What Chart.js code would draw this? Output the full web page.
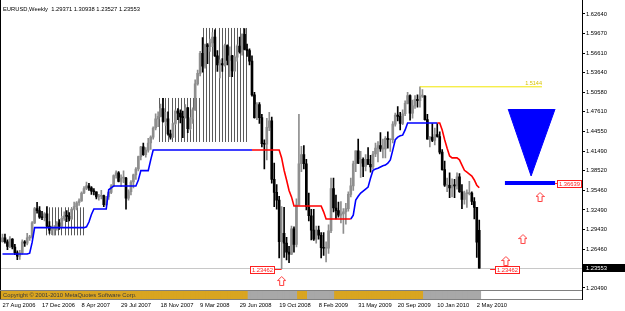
<!DOCTYPE html>
<html>
<head>
<meta charset="utf-8">
<script src="https://cdn.jsdelivr.net/npm/chart.js@4.4.0/dist/chart.umd.min.js"></script>
<style>
html, body { margin: 0; padding: 0; background: #fff; }
#wrap { position: relative; width: 625px; height: 311px; overflow: hidden; }
#main { position: absolute; left: 0; top: 0; }
#strip { position: absolute; left: 0; top: 291px; }
</style>
</head>
<body>
<div id="wrap">
<canvas id="main" width="625" height="311"></canvas>
<canvas id="strip" width="582" height="8"></canvas>
</div>
<script>
// EURUSD weekly, week 0 = 27 Aug 2006, last week = 9 May 2010
const opens = [
  1.2760,1.2820,1.2760,1.2690,1.2800,1.2680,1.2590,1.2540,1.2590,1.2760,
  1.2740,1.2820,1.2830,1.3050,1.3270,1.3240,1.3140,1.3130,1.3190,1.3000,
  1.2940,1.2950,1.2970,1.3050,1.3000,1.3120,1.3160,1.3150,1.3110,1.3260,
  1.3300,1.3360,1.3390,1.3510,1.3580,1.3620,1.3590,1.3540,1.3530,1.3450,
  1.3460,1.3470,1.3330,1.3450,1.3520,1.3620,1.3780,1.3820,1.3690,1.3740,
  1.3740,1.3430,1.3530,1.3680,1.3790,1.3880,1.4070,1.4220,1.4100,1.4170,
  1.4280,1.4370,1.4510,1.4650,1.4690,1.4810,1.4610,1.4650,1.4420,1.4370,
  1.4580,1.4770,1.4740,1.4680,1.4670,1.4820,1.4500,1.4650,1.4790,1.5190,
  1.5350,1.5660,1.5460,1.5790,1.5760,1.5820,1.5910,1.5620,1.5480,1.5500,
  1.5480,1.5780,1.5550,1.5620,1.5390,1.5600,1.5770,1.5680,1.5950,1.5720,
  1.5700,1.5540,1.5020,1.4670,1.4870,1.4670,1.4270,1.4260,1.4520,1.4620,
  1.3720,1.3520,1.3400,1.2760,1.2890,1.2740,1.2600,1.2570,1.2960,1.2720,
  1.3330,1.3960,1.4100,1.3960,1.3300,1.3160,1.2940,1.2800,1.2940,1.2860,
  1.2670,1.2660,1.2660,1.2930,1.3580,1.3280,1.3240,1.3170,1.3190,1.3220,
  1.3270,1.3490,1.3620,1.3960,1.4160,1.3970,1.4030,1.3920,1.4030,1.3950,
  1.3910,1.4110,1.4200,1.4240,1.4190,1.4190,1.4350,1.4330,1.4330,1.4570,
  1.4710,1.4690,1.4580,1.4730,1.4890,1.5010,1.4740,1.4850,1.4950,1.4930,
  1.5000,1.5000,1.4640,1.4340,1.4370,1.4320,1.4410,1.4380,1.4140,1.3870,
  1.3630,1.3630,1.3590,1.3630,1.3620,1.3760,1.3530,1.3410,1.3500,1.3500,
  1.3510,1.3380,1.3290,1.29371
];
const highs = [
  1.2880,1.2880,1.2790,1.2840,1.2810,1.2720,1.2620,1.2630,1.2790,1.2780,
  1.2890,1.2860,1.3070,1.3290,1.3367,1.3300,1.3230,1.3210,1.3300,1.3070,
  1.3000,1.3010,1.3070,1.3100,1.3150,1.3220,1.3240,1.3210,1.3280,1.3370,
  1.3380,1.3420,1.3530,1.3610,1.3680,1.3660,1.3610,1.3580,1.3530,1.3490,
  1.3550,1.3480,1.3460,1.3540,1.3640,1.3790,1.3850,1.3840,1.3790,1.3850,
  1.3750,1.3560,1.3700,1.3800,1.3900,1.4080,1.4230,1.4280,1.4210,1.4350,
  1.4390,1.4530,1.4730,1.4760,1.4880,1.4966,1.4750,1.4760,1.4480,1.4590,
  1.4790,1.4810,1.4790,1.4770,1.4870,1.4830,1.4670,1.4820,1.5250,1.5400,
  1.5690,1.5900,1.5800,1.5810,1.5880,1.5980,1.6020,1.5700,1.5560,1.5580,
  1.5800,1.5790,1.5760,1.5630,1.5620,1.5790,1.5910,1.5960,1.6038,1.5800,
  1.5730,1.5620,1.5060,1.4900,1.4900,1.4720,1.4330,1.4660,1.4750,1.4680,
  1.3970,1.3640,1.3460,1.3300,1.3290,1.2830,1.2690,1.3000,1.2990,1.3420,
  1.4719,1.4230,1.4240,1.4030,1.3510,1.3260,1.3260,1.3000,1.3000,1.2900,
  1.2900,1.2760,1.3020,1.3740,1.3740,1.3480,1.3370,1.3380,1.3270,1.3350,
  1.3530,1.3740,1.4000,1.4160,1.4340,1.4150,1.4050,1.4100,1.4210,1.4090,
  1.4150,1.4280,1.4300,1.4440,1.4340,1.4380,1.4450,1.4340,1.4610,1.4740,
  1.4840,1.4750,1.4790,1.4930,1.5060,1.5020,1.4940,1.5010,1.5020,1.5144,
  1.5100,1.5010,1.4720,1.4380,1.4580,1.4510,1.4580,1.4450,1.4180,1.4000,
  1.3740,1.3820,1.3730,1.3720,1.3820,1.3810,1.3640,1.3540,1.3560,1.3690,
  1.3530,1.3440,1.3290,1.30938
];
const lows = [
  1.2755,1.2740,1.2640,1.2670,1.2650,1.2560,1.2485,1.2490,1.2570,1.2690,
  1.2710,1.2780,1.2810,1.3040,1.3200,1.3120,1.3100,1.3080,1.2990,1.2890,
  1.2870,1.2860,1.2940,1.2950,1.2990,1.3090,1.3070,1.3080,1.3100,1.3250,
  1.3250,1.3320,1.3380,1.3500,1.3560,1.3550,1.3490,1.3480,1.3420,1.3400,
  1.3420,1.3300,1.3310,1.3410,1.3500,1.3610,1.3740,1.3680,1.3610,1.3670,
  1.3260,1.3400,1.3480,1.3590,1.3720,1.3850,1.4020,1.4090,1.4060,1.4140,
  1.4180,1.4340,1.4480,1.4530,1.4680,1.4600,1.4550,1.4400,1.4340,1.4360,
  1.4560,1.4640,1.4590,1.4360,1.4660,1.4440,1.4480,1.4580,1.4780,1.5170,
  1.5310,1.5370,1.5430,1.5500,1.5690,1.5760,1.5610,1.5380,1.5280,1.5380,
  1.5460,1.5480,1.5300,1.5300,1.5380,1.5540,1.5660,1.5630,1.5710,1.5610,
  1.5480,1.5000,1.4660,1.4640,1.4580,1.4220,1.3880,1.4020,1.4470,1.3660,
  1.3300,1.3260,1.2510,1.23462,1.2520,1.2480,1.2440,1.2560,1.2600,1.2680,
  1.3320,1.3840,1.3880,1.3250,1.3080,1.2790,1.2780,1.2740,1.2800,1.2510,
  1.2550,1.2450,1.2580,1.2900,1.3220,1.3110,1.3140,1.3050,1.2890,1.3030,
  1.3230,1.3450,1.3550,1.3840,1.3960,1.3750,1.3760,1.3850,1.3950,1.3830,
  1.3880,1.4070,1.3990,1.4150,1.4050,1.4050,1.4200,1.4150,1.4280,1.4540,
  1.4620,1.4480,1.4560,1.4700,1.4880,1.4630,1.4660,1.4810,1.4830,1.4830,
  1.4980,1.4630,1.4340,1.4220,1.4300,1.4250,1.4370,1.4110,1.3860,1.3610,
  1.3530,1.3440,1.3450,1.3440,1.3570,1.3520,1.3270,1.3340,1.3290,1.3480,
  1.3330,1.3110,1.2520,1.23527
];
const closes = [
  1.2820,1.2760,1.2690,1.2800,1.2680,1.2590,1.2540,1.2590,1.2760,1.2740,
  1.2820,1.2830,1.3050,1.3270,1.3240,1.3140,1.3130,1.3190,1.3000,1.2940,
  1.2950,1.2970,1.3050,1.3000,1.3120,1.3160,1.3150,1.3110,1.3260,1.3300,
  1.3360,1.3390,1.3510,1.3580,1.3620,1.3590,1.3540,1.3530,1.3450,1.3460,
  1.3470,1.3330,1.3450,1.3520,1.3620,1.3780,1.3820,1.3690,1.3740,1.3740,
  1.3430,1.3530,1.3680,1.3790,1.3880,1.4070,1.4220,1.4100,1.4170,1.4280,
  1.4370,1.4510,1.4650,1.4690,1.4810,1.4610,1.4650,1.4420,1.4370,1.4580,
  1.4770,1.4740,1.4680,1.4670,1.4820,1.4500,1.4650,1.4790,1.5190,1.5350,
  1.5660,1.5460,1.5790,1.5760,1.5820,1.5910,1.5620,1.5480,1.5500,1.5480,
  1.5780,1.5550,1.5620,1.5390,1.5600,1.5770,1.5680,1.5950,1.5720,1.5700,
  1.5540,1.5020,1.4670,1.4870,1.4670,1.4270,1.4260,1.4520,1.4620,1.3720,
  1.3520,1.3400,1.2760,1.2890,1.2740,1.2600,1.2570,1.2960,1.2720,1.3330,
  1.3960,1.4100,1.3960,1.3300,1.3160,1.2940,1.2800,1.2940,1.2860,1.2670,
  1.2660,1.2660,1.2930,1.3580,1.3280,1.3240,1.3170,1.3190,1.3220,1.3270,
  1.3490,1.3620,1.3960,1.4160,1.3970,1.4030,1.3920,1.4030,1.3950,1.3910,
  1.4110,1.4200,1.4240,1.4190,1.4190,1.4350,1.4330,1.4330,1.4570,1.4710,
  1.4690,1.4580,1.4730,1.4890,1.5010,1.4740,1.4850,1.4950,1.4930,1.5000,
  1.5000,1.4640,1.4340,1.4370,1.4320,1.4410,1.4380,1.4140,1.3870,1.3630,
  1.3630,1.3590,1.3630,1.3620,1.3760,1.3530,1.3410,1.3500,1.3500,1.3510,
  1.3380,1.3290,1.2755,1.23553
];

// trailing stop line, blue while long, red while short
const stopLine = [
  1.2572,1.2572,1.2572,1.2572,1.2572,1.2572,1.2572,1.2572,1.2572,1.2572,
  1.2572,1.2585,1.2750,1.2977,1.2977,1.2977,1.2977,1.2977,1.2977,1.2977,
  1.2977,1.2977,1.2977,1.2977,1.2977,1.2977,1.2977,1.2977,1.2977,1.2977,
  1.2977,1.2977,1.2977,1.2977,1.2990,1.3064,1.3180,1.3264,1.3264,1.3264,
  1.3264,1.3264,1.3264,1.3560,1.3590,1.3618,1.3618,1.3618,1.3618,1.3618,
  1.3618,1.3618,1.3618,1.3618,1.3618,1.3710,1.3855,1.3855,1.3855,1.3855,
  1.4020,1.4172,1.4172,1.4172,1.4172,1.4172,1.4172,1.4172,1.4172,1.4172,
  1.4172,1.4172,1.4172,1.4172,1.4172,1.4172,1.4172,1.4172,1.4172,1.4172,
  1.4172,1.4172,1.4172,1.4172,1.4172,1.4172,1.4172,1.4172,1.4172,1.4172,
  1.4172,1.4172,1.4172,1.4172,1.4172,1.4172,1.4172,1.4172,1.4172,1.4172,
  1.4172,1.4172,1.4172,1.4172,1.4172,1.4172,1.4172,1.4172,1.4172,1.4172,
  1.4172,1.4172,1.4172,1.4050,1.3860,1.3710,1.3550,1.3450,1.3310,1.3310,
  1.3310,1.3310,1.3310,1.3310,1.3310,1.3310,1.3310,1.3310,1.3310,1.3310,
  1.3220,1.3110,1.3110,1.3110,1.3110,1.3110,1.3110,1.3110,1.3110,1.3110,
  1.3110,1.3110,1.3170,1.3400,1.3460,1.3510,1.3540,1.3570,1.3600,1.3740,
  1.3860,1.3880,1.3890,1.3910,1.3930,1.3940,1.3970,1.4020,1.4170,1.4330,
  1.4370,1.4390,1.4400,1.4480,1.4587,1.4587,1.4587,1.4587,1.4587,1.4587,
  1.4587,1.4587,1.4587,1.4587,1.4587,1.4587,1.4587,1.4587,1.4480,1.4330,
  1.4200,1.4080,1.4050,1.4050,1.4050,1.4020,1.3940,1.3860,1.3830,1.3800,
  1.3770,1.3710,1.3630,1.3590
];
const flipWeeks = [101, 141, 176];

const tickWeeks = [0, 16, 32, 48, 64, 80, 96, 112, 128, 144, 160, 176, 192];
const tickLabels = ['27 Aug 2006', '17 Dec 2006', '8 Apr 2007', '29 Jul 2007', '18 Nov 2007', '9 Mar 2008',
  '29 Jun 2008', '19 Oct 2008', '8 Feb 2009', '31 May 2009', '20 Sep 2009', '10 Jan 2010', '2 May 2010'];
const priceTicks = [1.20490, 1.26460, 1.29430, 1.32490, 1.35460, 1.38520, 1.41490,
  1.44550, 1.47610, 1.50580, 1.53640, 1.56610, 1.59670, 1.62640];
const lastPrice = 1.23553;

// consolidation boxes (hatched)
const hatchFrom = [17.6, 63.4, 81.2];
const hatchTo = [32.7, 81.2, 99.0];
const hatchLow = [1.2859, 1.4295, 1.4295];
const hatchHigh = [1.3290, 1.4972, 1.6049];

// signal objects
const highLevelFrom = 169, highLevelTo = 218.4, highLevelPrice = 1.5144;
const triangleWeeks = [204.7, 214.0, 223.7];
const trianglePrices = [1.4802, 1.3772, 1.4802];
const signalFrom = 203.4, signalTo = 223.7, signalPrice = 1.36639;
const arrowWeeks = [113, 203.8, 210.7, 217.6];
const arrowPrices = [1.2156, 1.2464, 1.2802, 1.3449];
const levelLabelWeeks = [100.2, 199.4];
const levelLinkWeeks = [113, 197.4];
const levelPrices = [1.23462, 1.23462];

// lower indicator strip: run length, state
const stripRuns = [[100, 'o'], [20, 'g'], [4, 'o'], [11, 'g'], [36, 'o'], [23, 'g']];

const xMin = -1.012, xMax = 234.6;
// price scale calibration: top tick sits 14px below the top, 650px per 1.0
const anchorPrice = 1.6264, anchorY = 14, pxPerUnit = 650;
const FONT = "'Liberation Sans', Arial, sans-serif";
const FONT_SIZE = 5.8;

const weekIndex = opens.map((_, i) => i);
const candleColors = weekIndex.map(i => closes[i] >= opens[i] ? '#8e8e8e' : '#000000');

function segmentOf(i) { return flipWeeks.filter(f => f <= i).length; }
function trendPoints(wantUp) {
  return weekIndex.map(i => {
    const seg = segmentOf(i);
    const here = (seg % 2 === 0) === wantUp;
    const prev = flipWeeks.includes(i) && (((seg - 1) % 2 === 0) === wantUp);
    return { x: i, y: (here || prev) ? stopLine[i] : null };
  });
}

const stripColors = [];
stripRuns.forEach(([n, s]) => { for (let k = 0; k < n; k++) stripColors.push(s === 'o' ? '#d9a521' : '#a8a8a8'); });

function makeArrow() {
  const c = document.createElement('canvas');
  c.width = 9; c.height = 10;
  const g = c.getContext('2d');
  g.beginPath();
  g.moveTo(4.5, 0.5); g.lineTo(8.5, 4.5); g.lineTo(6.5, 4.5); g.lineTo(6.5, 9.5);
  g.lineTo(2.5, 9.5); g.lineTo(2.5, 4.5); g.lineTo(0.5, 4.5); g.closePath();
  g.fillStyle = '#fff'; g.fill();
  g.strokeStyle = '#ff3c3c'; g.lineWidth = 1; g.stroke();
  return c;
}

function redBox(ctx, xLeft, yMid, text) {
  ctx.font = FONT_SIZE + 'px ' + FONT;
  const w = Math.ceil(ctx.measureText(text).width) + 3;
  const x = Math.round(xLeft) + 0.5, y = Math.round(yMid) - 3.5;
  ctx.fillStyle = '#fff';
  ctx.fillRect(x, y, w, 7);
  ctx.strokeStyle = '#ff2020';
  ctx.lineWidth = 1;
  ctx.strokeRect(x, y, w, 7);
  ctx.fillStyle = '#ff2020';
  ctx.textBaseline = 'middle';
  ctx.textAlign = 'left';
  ctx.fillText(text, x + 1.5, y + 4);
  return w;
}

const decor = {
  id: 'decor',
  beforeDatasetsDraw(chart) {
    const { ctx, scales: { x, y }, chartArea } = chart;
    ctx.save();
    ctx.strokeStyle = '#5a5a5a';
    ctx.lineWidth = 1;
    hatchFrom.forEach((f, k) => {
      const x0 = x.getPixelForValue(f), x1 = x.getPixelForValue(hatchTo[k]);
      const yt = y.getPixelForValue(hatchHigh[k]), yb = y.getPixelForValue(hatchLow[k]);
      ctx.beginPath();
      for (let px = x0; px <= x1; px += 3.1) {
        const p = Math.round(px) + 0.5;
        ctx.moveTo(p, yt); ctx.lineTo(p, yb);
      }
      ctx.stroke();
    });
    const yl = Math.round(y.getPixelForValue(lastPrice)) + 0.5;
    ctx.strokeStyle = '#c8c8c8';
    ctx.beginPath(); ctx.moveTo(chartArea.left, yl); ctx.lineTo(chartArea.right, yl); ctx.stroke();
    ctx.restore();
  },
  afterDatasetsDraw(chart) {
    const { ctx, scales: { x, y }, chartArea } = chart;
    ctx.save();
    // level labels
    levelLabelWeeks.forEach((wk, k) => {
      const yy = Math.round(y.getPixelForValue(levelPrices[k])) + 0.5;
      const bx = x.getPixelForValue(wk);
      const w = redBox(ctx, bx, yy, levelPrices[k].toFixed(5));
      const lx = x.getPixelForValue(levelLinkWeeks[k]);
      ctx.strokeStyle = '#ff2020';
      ctx.beginPath();
      if (lx > bx) { ctx.moveTo(bx + w + 1, yy); ctx.lineTo(lx, yy); }
      else { ctx.moveTo(lx, yy); ctx.lineTo(bx, yy); }
      ctx.stroke();
    });
    // signal label at right edge
    const sy = Math.round(y.getPixelForValue(signalPrice)) + 0.5;
    ctx.font = FONT_SIZE + 'px ' + FONT;
    const sw = Math.ceil(ctx.measureText(signalPrice.toFixed(5)).width) + 3;
    const sx = chartArea.right - sw - 1;
    redBox(ctx, sx, sy, signalPrice.toFixed(5));
    ctx.strokeStyle = '#ff2020';
    ctx.beginPath(); ctx.moveTo(x.getPixelForValue(signalTo), sy); ctx.lineTo(sx, sy); ctx.stroke();
    // high level tag
    ctx.font = '5.5px ' + FONT;
    ctx.fillStyle = '#d8c400';
    ctx.textAlign = 'right';
    ctx.textBaseline = 'bottom';
    ctx.fillText(highLevelPrice.toFixed(4), x.getPixelForValue(highLevelTo), y.getPixelForValue(highLevelPrice) - 0.5);
    ctx.restore();
  },
  afterDraw(chart) {
    const { ctx, scales: { y }, chartArea } = chart;
    ctx.save();
    ctx.font = FONT_SIZE + 'px ' + FONT;
    ctx.fillStyle = '#000';
    ctx.textBaseline = 'middle';
    ctx.textAlign = 'left';
    ctx.fillText('EURUSD,Weekly  1.29371 1.30938 1.23527 1.23553', 3, 9);
    // frame
    ctx.strokeStyle = '#000';
    ctx.lineWidth = 1;
    ctx.beginPath();
    ctx.moveTo(0.5, 0); ctx.lineTo(0.5, 300);
    ctx.moveTo(chartArea.right + 0.5, 0); ctx.lineTo(chartArea.right + 0.5, 300);
    ctx.stroke();
    ctx.strokeStyle = '#808080';
    ctx.beginPath();
    ctx.moveTo(0, chartArea.bottom + 0.5); ctx.lineTo(chartArea.right, chartArea.bottom + 0.5);
    ctx.moveTo(0, 299.5); ctx.lineTo(chartArea.right, 299.5);
    ctx.stroke();
    // last price tag on the axis
    const ly = Math.round(y.getPixelForValue(lastPrice));
    ctx.fillStyle = '#000';
    ctx.fillRect(chartArea.right + 1, ly - 4, 625 - chartArea.right - 1, 8);
    ctx.fillStyle = '#fff';
    ctx.fillText(lastPrice.toFixed(5), chartArea.right + 4, ly + 0.5);
    ctx.restore();
  }
};

const mainChart = new Chart(document.getElementById('main'), {
  data: {
    datasets: [
      {
        type: 'bar', data: weekIndex.map(i => ({ x: i, y: [lows[i], highs[i]] })),
        backgroundColor: candleColors, barThickness: 1, grouped: false, order: 5
      },
      {
        type: 'bar', data: weekIndex.map(i => ({ x: i, y: [opens[i], closes[i]] })),
        backgroundColor: candleColors, barThickness: 2, minBarLength: 1, grouped: false, order: 4
      },
      {
        type: 'line', data: trendPoints(true), borderColor: '#0000ff', borderWidth: 1.6,
        pointRadius: 0, spanGaps: false, order: 3
      },
      {
        type: 'line', data: trendPoints(false), borderColor: '#ff0000', borderWidth: 1.6,
        pointRadius: 0, spanGaps: false, order: 3
      },
      {
        type: 'line', data: [{ x: highLevelFrom, y: highLevelPrice }, { x: highLevelTo, y: highLevelPrice }],
        borderColor: '#f2e600', borderWidth: 1, pointRadius: 0, order: 2
      },
      {
        type: 'line', data: triangleWeeks.map((w, k) => ({ x: w, y: trianglePrices[k] })),
        borderColor: '#0000ff', borderWidth: 1, backgroundColor: '#0000ff',
        fill: { target: { value: trianglePrices[0] } }, pointRadius: 0, order: 1
      },
      {
        type: 'line', data: [{ x: signalFrom, y: signalPrice }, { x: signalTo, y: signalPrice }],
        borderColor: '#0000ff', borderWidth: 4, pointRadius: 0, borderCapStyle: 'butt', order: 1
      },
      {
        type: 'line', data: arrowWeeks.map((w, k) => ({ x: w, y: arrowPrices[k] })),
        showLine: false, pointStyle: makeArrow(), pointRadius: 5, order: 0
      }
    ]
  },
  options: {
    responsive: false,
    animation: false,
    devicePixelRatio: 1,
    layout: { padding: 0, autoPadding: false },
    plugins: { legend: { display: false }, tooltip: { enabled: false } },
    scales: {
      x: {
        type: 'linear', min: xMin, max: xMax, offset: false, position: 'bottom',
        grid: { display: false, drawTicks: true, tickLength: 12 },
        border: { display: false },
        afterBuildTicks: s => { s.ticks = tickWeeks.map(v => ({ value: v })); },
        afterFit: s => { s.height = 21; },
        ticks: {
          autoSkip: false, maxRotation: 0, minRotation: 0, align: 'start', padding: 0,
          font: { family: FONT, size: FONT_SIZE }, color: '#000',
          callback: (v, i) => tickLabels[i]
        }
      },
      y: {
        type: 'linear', position: 'right',
        min: anchorPrice - (290 - anchorY) / pxPerUnit,
        max: anchorPrice + anchorY / pxPerUnit,
        grid: { drawOnChartArea: false, drawTicks: true, tickLength: 3, color: '#000' },
        border: { display: true, color: '#000' },
        afterBuildTicks: s => { s.ticks = [s.min, ...priceTicks, s.max].map(v => ({ value: v })); },
        afterFit: s => { s.width = 43; },
        ticks: {
          autoSkip: false, padding: 1,
          font: { family: FONT, size: FONT_SIZE }, color: '#000',
          callback: v => priceTicks.includes(v) ? v.toFixed(5) : null
        }
      }
    }
  },
  plugins: [decor]
});

// keep the price scale on the same pixels whatever padding the layout took
const area = mainChart.chartArea;
mainChart.options.scales.y.min = anchorPrice - (area.bottom - anchorY) / pxPerUnit;
mainChart.options.scales.y.max = anchorPrice + (anchorY - area.top) / pxPerUnit;
mainChart.update('none');

const stripText = {
  id: 'stripText',
  afterDatasetsDraw(chart) {
    const { ctx } = chart;
    ctx.save();
    ctx.font = FONT_SIZE + 'px ' + FONT;
    ctx.fillStyle = '#3a3a3a';
    ctx.textBaseline = 'middle';
    ctx.fillText('Copyright \u00a9 2001-2010 MetaQuotes Software Corp.', 3, 4);
    ctx.restore();
  }
};

new Chart(document.getElementById('strip'), {
  type: 'bar',
  data: {
    datasets: [{
      data: weekIndex.map(i => ({ x: i, y: 1 })),
      backgroundColor: stripColors, barThickness: 3, grouped: false
    }]
  },
  options: {
    responsive: false,
    animation: false,
    devicePixelRatio: 1,
    layout: { padding: 0, autoPadding: false },
    plugins: { legend: { display: false }, tooltip: { enabled: false } },
    scales: {
      x: { type: 'linear', min: xMin, max: xMax, offset: false, display: false },
      y: { min: 0, max: 1, display: false }
    }
  },
  plugins: [stripText]
});
</script>
</body>
</html>
